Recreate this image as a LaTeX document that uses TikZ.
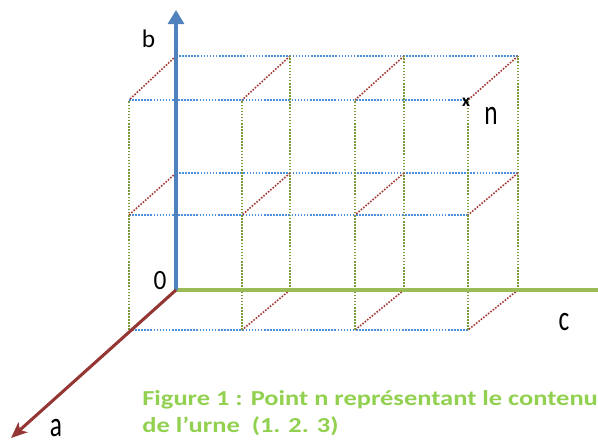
\documentclass[tikz,border=0pt]{standalone}
\usepackage{fontspec}
\setmainfont[Numbers=Lining]{Carlito}
\usetikzlibrary{arrows.meta}
\definecolor{gridblue}{HTML}{4A90DC}
\definecolor{gridgreen}{HTML}{7A9A3A}
\definecolor{gridred}{HTML}{A33A36}
\definecolor{axisblue}{HTML}{4F81BD}
\definecolor{axisgreen}{HTML}{9BBB59}
\definecolor{axisred}{HTML}{943634}
\definecolor{captiongreen}{HTML}{92D050}
\tikzset{
  dotline/.style={line width=1.2pt, dash pattern=on 1.2pt off 1.1pt},
  cline/.style={dotline, gridblue},
  aline/.style={dotline, gridred},
  bline/.style={dotline, gridgreen},
  axisline/.style={line width=2.3pt},
  lbl/.style={inner sep=0pt, font=\fontsize{19}{22}\selectfont},
  tall/.style={lbl, yscale=1.4},
  captxt/.style={inner sep=0pt, anchor=base west, xscale=1.24, text=captiongreen, font=\bfseries\fontsize{16}{19}\selectfont}
}
\begin{document}
\begin{tikzpicture}[x=0.75pt,y=-0.75pt]
\useasboundingbox (0,0) rectangle (598,443);
% grid points: back (a=0) and front (a=1)
\foreach \i in {0,...,3}{
  \foreach \j in {0,1,2}{
    \coordinate (B\i\j) at ({176+114*\i},{290-117*\j});
    \coordinate (F\i\j) at ({129+113*\i},{330-115*\j});
  }
}
% lines along c
\foreach \j in {1,2}{\draw[cline] (B0\j) -- (B3\j);}
\foreach \j in {0,1,2}{\draw[cline] (F0\j) -- (F3\j);}
% lines along a
\foreach \i/\j in {1/0,2/0,3/0,0/1,1/1,2/1,3/1,0/2,1/2,2/2,3/2}{\draw[aline] (B\i\j) -- (F\i\j);}
% lines along b
\foreach \i in {1,2,3}{\draw[bline] (B\i0) -- (B\i2);}
\foreach \i in {0,...,3}{\draw[bline] (F\i0) -- (F\i2);}
% axes
\coordinate (O) at (176,290);
\coordinate (btip) at (176,10);
\coordinate (cend) at (598,290);
\coordinate (atip) at (11,438);
\draw[axisline, axisgreen] (O) -- (cend);
\draw[axisline, axisblue, -{Triangle[length=10.5pt,width=12pt]}] (O) -- (btip);
\draw[axisline, axisred, -{Stealth[length=12pt,width=10pt,inset=3pt]}] (O) -- (atip);
% labels
\node[lbl] (lb) at (148.5,38.5) {b};
\node[lbl, yscale=1.1] (lzero) at (160,281) {0};
\node[tall] (lc) at (564,322.5) {c};
\node[tall, anchor=south] (la) at (56,437) {a};
\node[tall] (ln) at (491,116) {n};
\node[inner sep=0pt, font=\bfseries\fontsize{13}{14}\selectfont] (lx) at (466,102) {x};
% caption
\node[captxt] (cap1) at (142,405) {Figure 1 : Point n représentant le contenu};
\node[captxt] (cap2) at (142,432) {de l’urne~ (1. 2. 3)};
\end{tikzpicture}
\end{document}
